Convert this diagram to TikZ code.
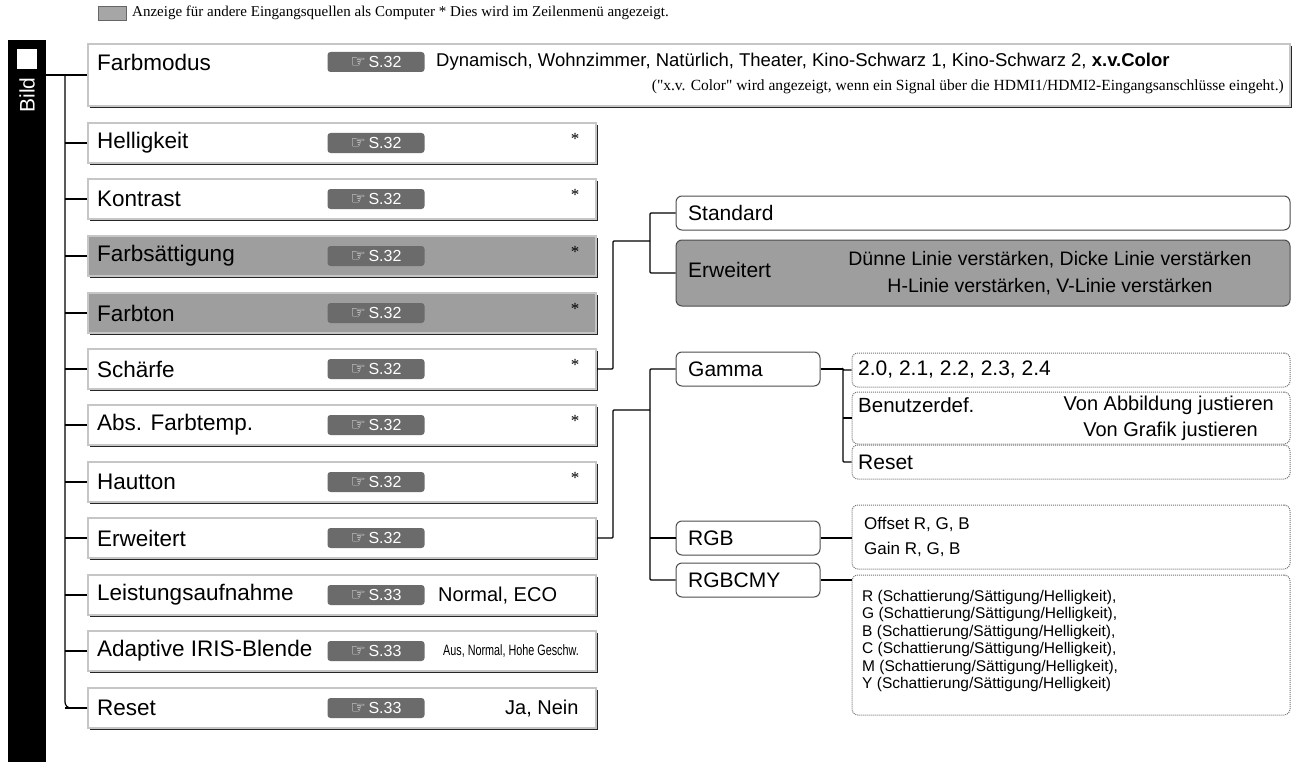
\documentclass[tikz,border=0pt]{standalone}
\usepackage{fontspec}
\setmainfont{Liberation Sans}
\newfontfamily\serif{Liberation Serif}
\newfontfamily\symb{DejaVu Sans}
\usepackage{tikz}
\usetikzlibrary{calc}
\usetikzlibrary{shadows}
\newcommand{\hand}{{\symb\fontsize{17}{17}\selectfont\char"261E}\,}
\tikzset{
	menu/.style={draw=gray!45, line width=2pt, fill=white, minimum width=508pt, minimum height=40pt,
		drop shadow={shadow xshift=2pt, shadow yshift=-2pt, fill=black!85, opacity=1}},
	sub/.style={draw=black!70, line width=1pt, rounded corners=6pt, fill=white, inner sep=0pt},
	opt/.style={draw=black!55, densely dotted, line width=1pt, rounded corners=6pt, inner sep=0pt},
	badge/.style={fill=black!58, text=white, rounded corners=3pt, minimum width=97pt, minimum height=20pt,
		inner sep=0pt, font=\fontsize{16}{16}\selectfont},
	lbl/.style={anchor=west, inner sep=0pt, font=\fontsize{22.5}{24}\selectfont},
	txt/.style={anchor=west, inner sep=0pt, font=\fontsize{19}{21}\selectfont},
	conn/.style={line width=1.2pt, rounded corners=1pt},
}
\begin{document}
\begin{tikzpicture}[x=1pt, y=-1pt]
	\useasboundingbox (0,0) rectangle (1298,773);
	%legend
	\node[draw=black!60, fill=black!35, minimum width=28pt, minimum height=14pt, inner sep=0pt] (key) at (112,13) {};
	\node[anchor=west, inner sep=0pt, font=\serif\fontsize{15}{15}\selectfont] (keytxt) at (132,13)
		{Anzeige für andere Eingangsquellen als Computer * Dies wird im Zeilenmenü angezeigt.};
	
	%black bar
	\fill (8,40) rectangle (46,762);
	\node[fill=white, minimum size=20pt, inner sep=0pt] (bild) at (27,59) {};
	\node[text=white, rotate=90, font=\fontsize{21}{21}\selectfont] (bildtxt) at (27,95) {Bild};
	\coordinate (trunk) at (65,0);
	
	%top entry
	\node[menu, minimum width=1202pt, minimum height=62pt] (farb) at (689,75) {};
	\node[lbl] at (97,62) {Farbmodus};
	\node[badge] at (376,62) {\hand S.32};
	\node[txt, font=\fontsize{18.5}{20}\selectfont] at (436,62)
		{Dynamisch, Wohnzimmer, Natürlich, Theater, Kino-Schwarz 1, Kino-Schwarz 2, \textbf{x.v.Color}};
	\node[anchor=east, inner sep=0pt, font=\serif\fontsize{15.5}{16}\selectfont] at (1284,87)
		{("x.v. Color" wird angezeigt, wenn ein Signal über die HDMI1/HDMI2-Eingangsanschlüsse eingeht.)};
	
	%left column
	\foreach \n/\t/\y/\p/\f in {hell/Helligkeit/143/32/white, kon/Kontrast/199/32/white,
		sat/Farbsättigung/256/32/black!38, ton/Farbton/313/32/black!38, sch/Schärfe/369/32/white,
		abs/Abs. Farbtemp./425/32/white, hau/Hautton/482/32/white, erw/Erweitert/538/32/white,
		lei/Leistungsaufnahme/595/33/white, iris/Adaptive IRIS-Blende/651/33/white, res/Reset/708/33/white}
	{
		\node[menu, fill=\f] (\n) at (342,\y) {};
		\node[lbl] at (97,\y) {\t};
		\node[badge] at (376,\y) {\hand S.\p};
		\draw[conn] (\n.west) -- (\n.west -| trunk);
	}
	\foreach \n in {hell,kon,sat,ton,sch,abs,hau}
		\node[font=\serif\fontsize{17}{17}\selectfont] at ($(\n.east)+(-22,-4)$) {*};
	\node[txt, font=\fontsize{20}{22}\selectfont] at (438,596) {Normal, ECO};
	\node[inner sep=0pt, font=\fontsize{15}{15}\selectfont, xscale=0.72] at (511,651) {Aus, Normal, Hohe Geschw.};
	\node[txt, font=\fontsize{20}{22}\selectfont] at (505,709) {Ja, Nein};
	
	%trunk
	\draw[conn] (bild.east |- farb.west) -- (farb.west);
	\draw[conn, rounded corners=6pt] (farb.west -| trunk) -- (res.west -| trunk) -- (res.west);
	
	%Schaerfe branch
	\node[sub, minimum width=614pt, minimum height=34pt] (std) at (983,213) {};
	\node[lbl, font=\fontsize{21}{23}\selectfont] at (688,213) {Standard};
	\node[sub, fill=black!38, minimum width=614pt, minimum height=66pt] (erw2) at (983,273) {};
	\node[lbl, font=\fontsize{21}{23}\selectfont] at (688,270) {Erweitert};
	\node[font=\fontsize{19.5}{21}\selectfont, align=center, inner sep=0pt] at (1050,273)
		{Dünne Linie verstärken, Dicke Linie verstärken\\[6pt]H-Linie verstärken, V-Linie verstärken};
	\coordinate (sj) at (650,241);
	\draw[conn] (sch.east) -- ++(16,0) |- (sj);
	\draw[conn] (std.west) -| (sj) |- (erw2.west);
	
	%Erweitert branch
	\node[sub, minimum width=144pt, minimum height=34pt] (gam) at (748,369) {};
	\node[lbl, font=\fontsize{21}{23}\selectfont] at (688,369) {Gamma};
	\node[sub, minimum width=144pt, minimum height=34pt] (rgb) at (748,538) {};
	\node[lbl, font=\fontsize{21}{23}\selectfont] at (688,538) {RGB};
	\node[sub, minimum width=144pt, minimum height=34pt] (cmy) at (748,580) {};
	\node[lbl, font=\fontsize{21}{23}\selectfont] at (688,580) {RGBCMY};
	\coordinate (ej) at (650,410);
	\draw[conn] (erw.east) -- ++(16,0) |- (ej);
	\draw[conn] (gam.west) -| (ej) |- (cmy.west);
	\draw[conn] (rgb.west) -- (rgb.west -| ej);
	
	%Gamma options
	\node[opt, minimum width=438pt, minimum height=34pt] (g1) at (1071,370) {};
	\node[lbl, font=\fontsize{21}{23}\selectfont] at (858,370) {2.0, 2.1, 2.2, 2.3, 2.4};
	\node[opt, minimum width=438pt, minimum height=52pt] (g2) at (1071,418) {};
	\node[lbl, font=\fontsize{20.5}{22}\selectfont] at (858,405) {Benutzerdef.};
	\node[anchor=east, inner sep=0pt, align=right, font=\fontsize{20}{26}\selectfont] at (1274,418)
		{Von Abbildung justieren\\Von Grafik justieren\hspace*{16pt}};
	\node[opt, minimum width=438pt, minimum height=34pt] (g3) at (1071,462) {};
	\node[lbl, font=\fontsize{21}{23}\selectfont] at (858,462) {Reset};
	\coordinate (gj) at (843,0);
	\draw[conn] (gam.east) -- (gam.east -| gj);
	\draw[conn] (g1.west) -| (gj |- g1.west) |- (g3.west);
	\draw[conn] (g2.west) -- (g2.west -| gj);
	
	%RGB options
	\node[opt, minimum width=438pt, minimum height=64pt] (o1) at (1071,537) {};
	\node[txt, font=\fontsize{17}{25}\selectfont, align=left] at (864,537) {Offset R, G, B\\Gain R, G, B};
	\draw[conn] (rgb.east) -- (rgb.east -| o1.west);
	\node[opt, minimum width=438pt, minimum height=140pt] (o2) at (1071,645) {};
	\node[txt, font=\fontsize{15.5}{17.5}\selectfont, align=left] at (862,641)
		{R (Schattierung/Sättigung/Helligkeit),\\G (Schattierung/Sättigung/Helligkeit),\\B (Schattierung/Sättigung/Helligkeit),\\C (Schattierung/Sättigung/Helligkeit),\\M (Schattierung/Sättigung/Helligkeit),\\Y (Schattierung/Sättigung/Helligkeit)};
	\draw[conn] (cmy.east) -- (cmy.east -| o2.west);
\end{tikzpicture}
\end{document}
